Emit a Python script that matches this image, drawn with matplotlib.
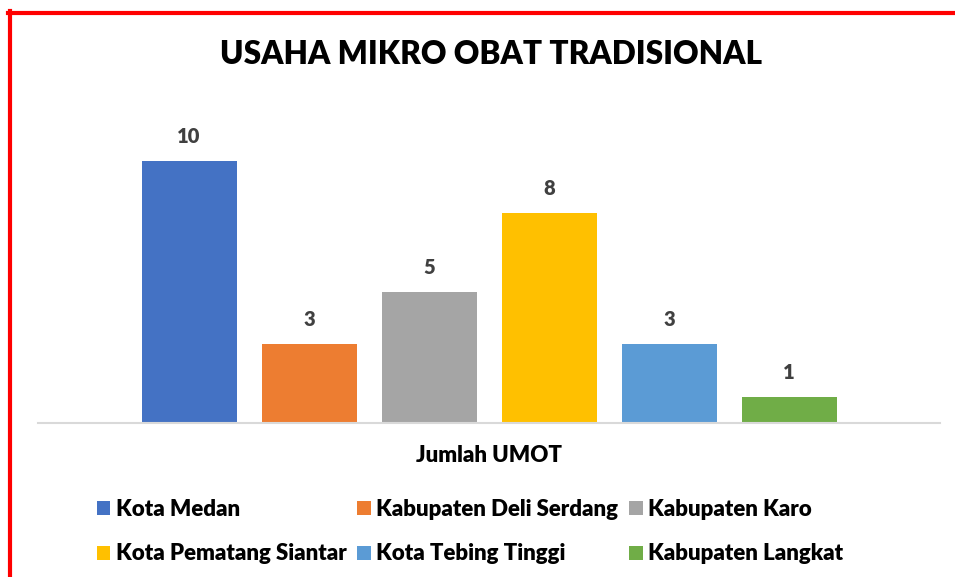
import numpy as np
import matplotlib.pyplot as plt
from matplotlib.lines import Line2D

regions = ['Kota Medan', 'Kabupaten Deli Serdang', 'Kabupaten Karo',
           'Kota Pematang Siantar', 'Kota Tebing Tinggi', 'Kabupaten Langkat']
umot = [10, 3, 5, 8, 3, 1]
colors = ['#4472C4', '#ED7D31', '#A5A5A5', '#FFC000', '#5B9BD5', '#70AD47']
category = 'Jumlah UMOT'

plt.rcParams['font.family'] = ['Lato', 'DejaVu Sans']
plt.rcParams['font.weight'] = 'bold'

fig = plt.figure(figsize=(9.55, 5.77), dpi=100)
W, H = 955, 577
# plot area in pixels: x 38..940, bottom at y=423
ax = fig.add_axes([38 / W, 1 - 423 / H, (940 - 38) / W, (423 - 108.6) / H])

x = np.arange(len(umot)) - (len(umot) - 1) / 2
bars = ax.bar(x, umot, width=95 / 120, color=colors, label=regions, zorder=2)
for xi, v in zip(x, umot):
    ax.annotate(str(v), (xi, v), xytext=(0, 11), textcoords='offset points',
                ha='center', va='bottom', fontsize=14.5, fontweight='heavy', color='#404040')

span = (940 - 38) / 120
ax.set_xlim(-span / 2, span / 2)
ax.set_ylim(0, 12)
for s in ['top', 'right', 'left']:
    ax.spines[s].set_visible(False)
ax.spines['bottom'].set_color('#D9D9D9')
ax.spines['bottom'].set_linewidth(1.5)
ax.set_yticks([])
ax.set_xticks([])
ax.set_facecolor('none')

fig.text(491 / W, 1 - 55 / H, 'USAHA MIKRO OBAT TRADISIONAL', ha='center', va='center',
         fontsize=22.7, fontweight='heavy', color='black')
fig.text(489 / W, 1 - 455 / H, category, ha='center', va='center',
         fontsize=16, fontweight='heavy', color='black')

# legend filled row by row (3 columns, 2 rows)
order = [0, 3, 1, 4, 2, 5]
leg = fig.legend(handles=[bars[i] for i in order], labels=[regions[i] for i in order],
                 ncol=3, loc='center', bbox_to_anchor=(470 / W, 1 - 531.5 / H), frameon=False,
                 fontsize=16, handlelength=0.6, handleheight=0.6, handletextpad=0.25,
                 columnspacing=0.5, labelspacing=1.08)
for t in leg.get_texts():
    t.set_fontweight('heavy')

# red frame (left and top)
fig.add_artist(Line2D([9.5 / W, 9.5 / W], [0, 1 - 11 / H], color='red', lw=3, transform=fig.transFigure))
fig.add_artist(Line2D([8 / W, 1], [1 - 12.5 / H, 1 - 12.5 / H], color='red', lw=3, transform=fig.transFigure))

fig.savefig('out.png', dpi=100)
